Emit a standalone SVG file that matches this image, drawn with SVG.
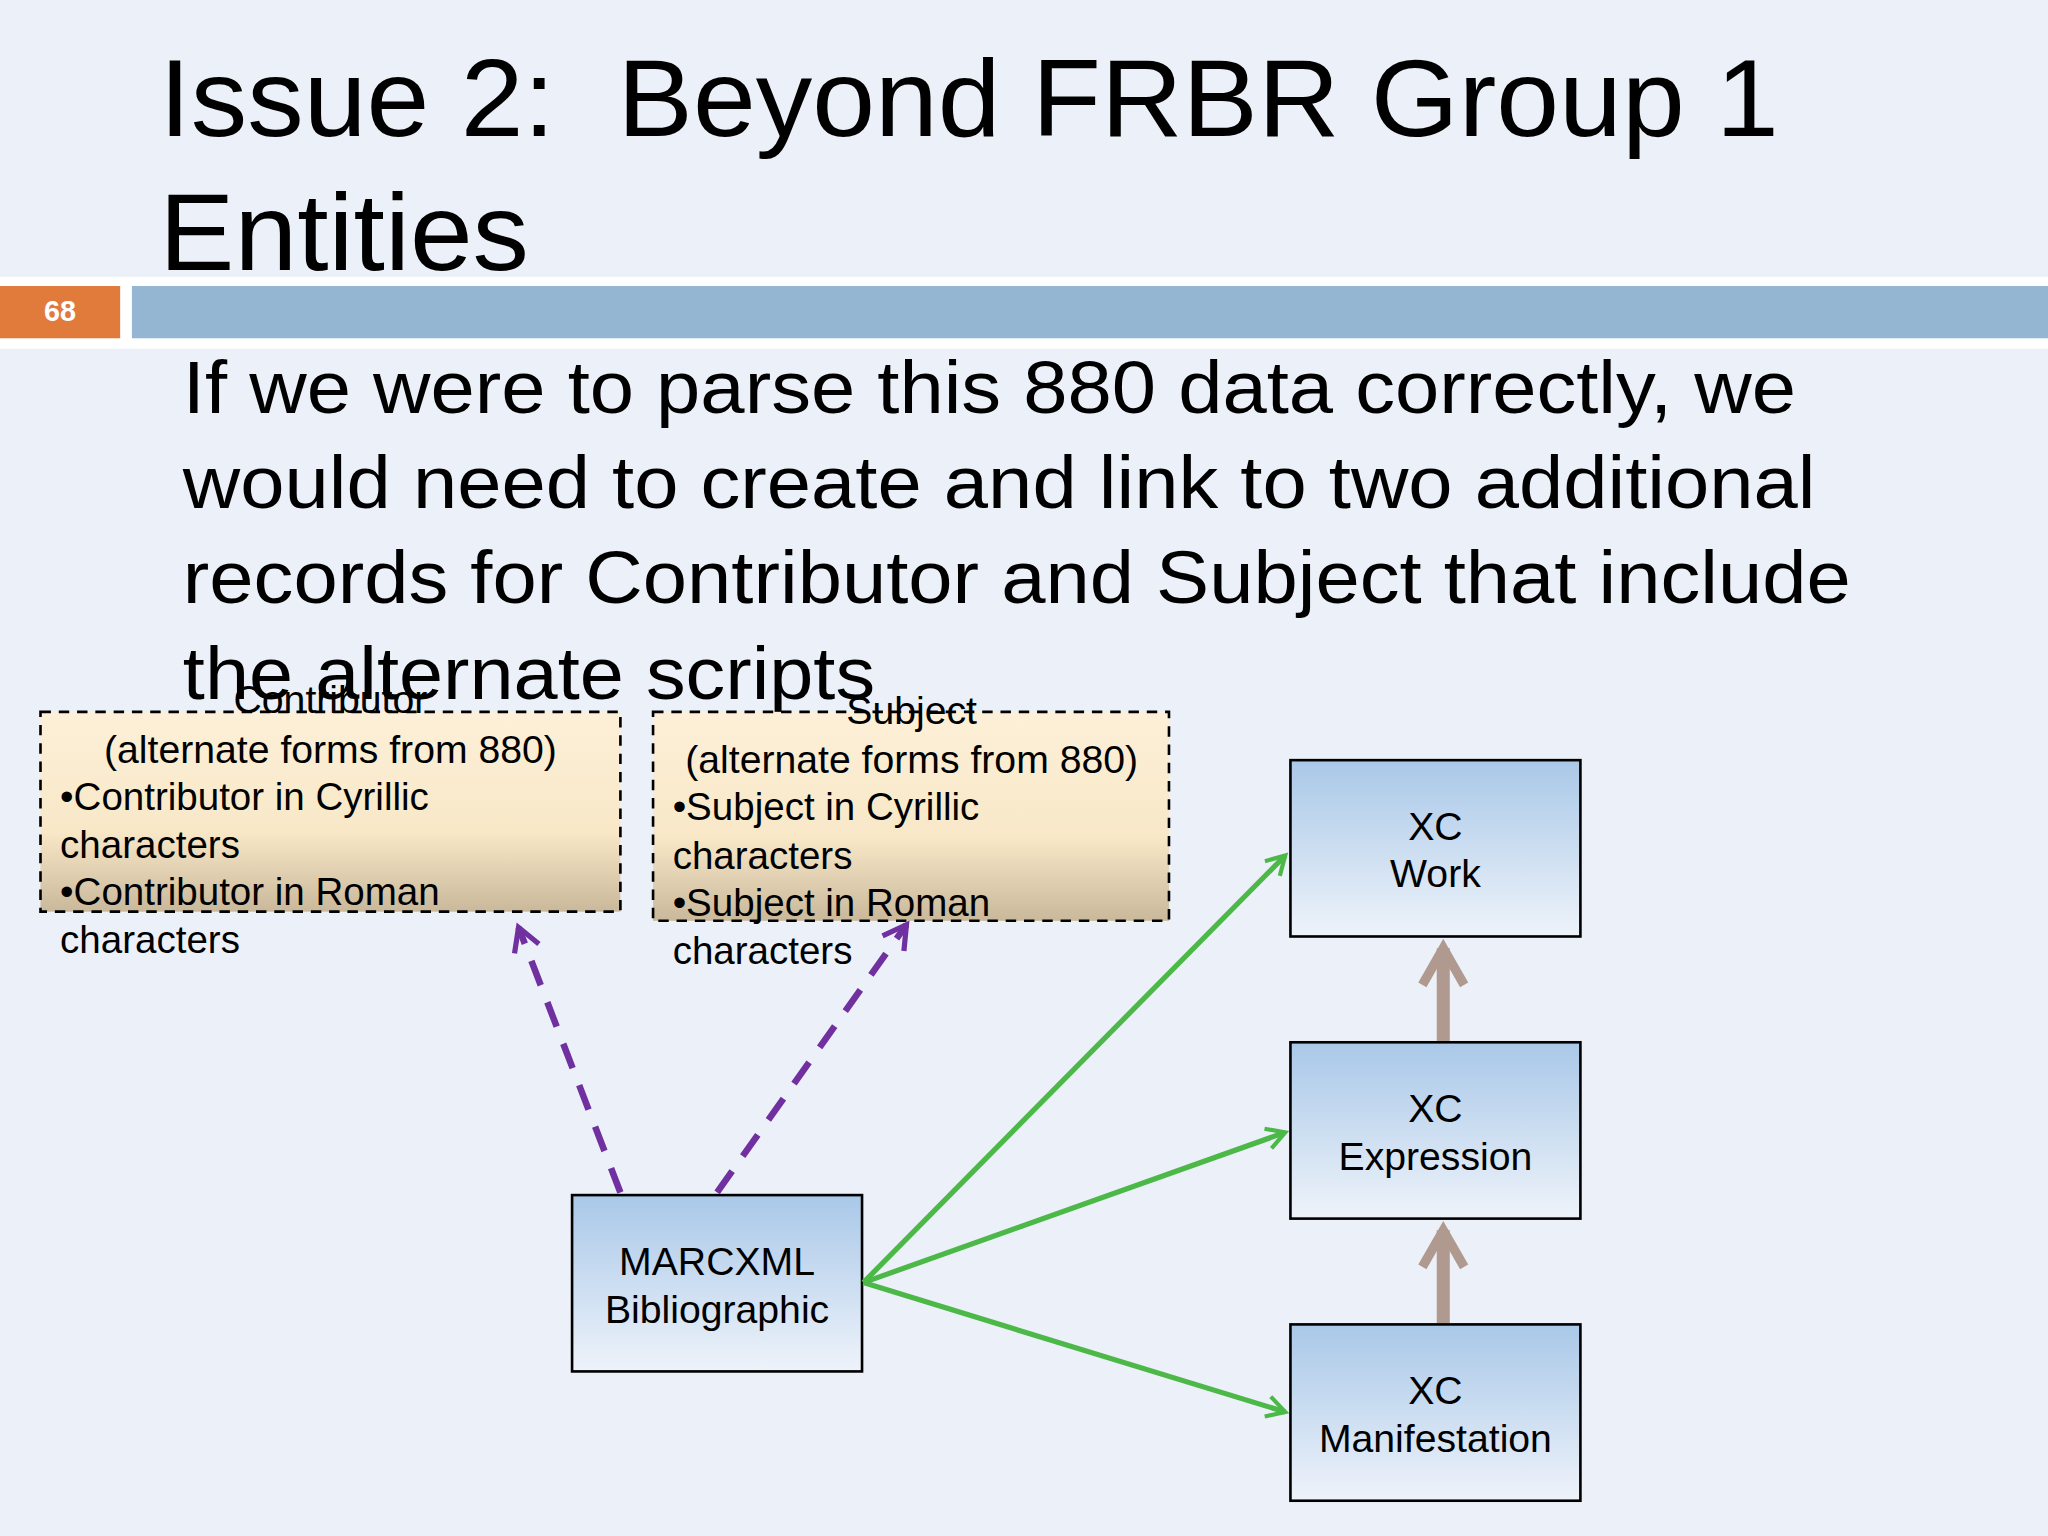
<svg xmlns="http://www.w3.org/2000/svg" width="2048" height="1536" viewBox="0 0 2048 1536">
<defs>
<linearGradient id="bl" x1="0" y1="0" x2="0" y2="1"><stop offset="0" stop-color="#a9c8e8"/><stop offset="1" stop-color="#eef3fa"/></linearGradient>
<linearGradient id="yl" x1="0" y1="0" x2="0" y2="1"><stop offset="0" stop-color="#fdf0d8"/><stop offset="0.6" stop-color="#f8e8c8"/><stop offset="1" stop-color="#c9b89a"/></linearGradient>
<marker id="ag" viewBox="0 0 10 10" refX="8" refY="5" markerWidth="5" markerHeight="5" orient="auto"><path d="M1,1 L8,5 L1,9" fill="none" stroke="#4cb848" stroke-width="1.6"/></marker>
<marker id="ap" viewBox="0 0 10 10" refX="8" refY="5" markerWidth="5" markerHeight="5" orient="auto"><path d="M1,1 L8,5 L1,9" fill="none" stroke="#7030a0" stroke-width="1.6"/></marker>
<marker id="ab" viewBox="0 0 10 10" refX="8" refY="5" markerWidth="4" markerHeight="4" orient="auto"><path d="M1,1 L8,5 L1,9" fill="none" stroke="#b09a90" stroke-width="1.8"/></marker>
<style>
text{font-family:"Liberation Sans",Arial,sans-serif;fill:#000}
.box{fill:url(#bl);stroke:#000;stroke-width:2}
.dash{fill:url(#yl);stroke:#000;stroke-width:2;stroke-dasharray:8,6}
.t{font-size:30px;text-anchor:middle}
.s{font-size:29.5px}
</style>
</defs>
<g transform="scale(1.30612)">
<rect width="1568" height="1176" fill="#ecf0f8"/>
<text x="122" y="104" font-size="84" xml:space="preserve" textLength="1240" lengthAdjust="spacingAndGlyphs">Issue 2:  Beyond FRBR Group 1</text>
<text x="122" y="207" font-size="84" textLength="283" lengthAdjust="spacingAndGlyphs">Entities</text>
<rect x="0" y="212" width="1568" height="55" fill="#fff"/>
<rect x="0" y="219" width="92" height="40" fill="#e07b3c"/>
<text x="46" y="246" font-size="22" font-weight="bold" text-anchor="middle" style="fill:#fff">68</text>
<rect x="101" y="219" width="1467" height="40" fill="#94b6d2"/>
<g font-size="57" lengthAdjust="spacingAndGlyphs">
<text x="140" y="316" textLength="1235" lengthAdjust="spacingAndGlyphs">If we were to parse this 880 data correctly, we</text>
<text x="140" y="389" textLength="1250" lengthAdjust="spacingAndGlyphs">would need to create and link to two additional</text>
<text x="140" y="462" textLength="1277" lengthAdjust="spacingAndGlyphs">records for Contributor and Subject that include</text>
<text x="140" y="535" textLength="530" lengthAdjust="spacingAndGlyphs">the alternate scripts</text>
</g>
<g id="contributor"><rect class="dash" x="31" y="545" width="444" height="153"/>
<text class="t" x="253" y="546">Contributor</text>
<text class="t" x="253" y="584">(alternate forms from 880)</text>
<text class="s" x="46" y="620">•Contributor in Cyrillic</text>
<text class="s" x="46" y="657">characters</text>
<text class="s" x="46" y="693">•Contributor in Roman</text>
<text class="s" x="46" y="730">characters</text></g>
<g id="subject"><rect class="dash" x="500" y="545" width="395" height="160"/>
<text class="t" x="698" y="554">Subject</text>
<text class="t" x="698" y="592">(alternate forms from 880)</text>
<text class="s" x="515" y="628">•Subject in Cyrillic</text>
<text class="s" x="515" y="665">characters</text>
<text class="s" x="515" y="701">•Subject in Roman</text>
<text class="s" x="515" y="738">characters</text></g>
<g id="marc"><rect class="box" x="438" y="915" width="222" height="135"/>
<text class="t" x="549" y="976">MARCXML</text><text class="t" x="549" y="1013">Bibliographic</text></g>
<g id="work"><rect class="box" x="988" y="582" width="222" height="135"/>
<text class="t" x="1099" y="643">XC</text><text class="t" x="1099" y="679">Work</text></g>
<g id="expression"><rect class="box" x="988" y="798" width="222" height="135"/>
<text class="t" x="1099" y="859">XC</text><text class="t" x="1099" y="896">Expression</text></g>
<g id="manifestation"><rect class="box" x="988" y="1014" width="222" height="135"/>
<text class="t" x="1099" y="1075">XC</text><text class="t" x="1099" y="1112">Manifestation</text></g>
<g id="connectors" fill="none">
<g stroke="#4cb848" stroke-width="4" marker-end="url(#ag)">
<path d="M661,982 L984,655"/><path d="M661,982 L984,867"/><path d="M661,982 L984,1081"/></g>
<g stroke="#7030a0" stroke-width="5" stroke-dasharray="20,14" marker-end="url(#ap)">
<path d="M475,913 L397,710"/><path d="M549,913 L694,708"/></g>
<g stroke="#b09a90" stroke-width="10" marker-end="url(#ab)">
<path d="M1105,797 L1105,726"/><path d="M1105,1013 L1105,942"/></g>
</g>
</g>
</svg>
